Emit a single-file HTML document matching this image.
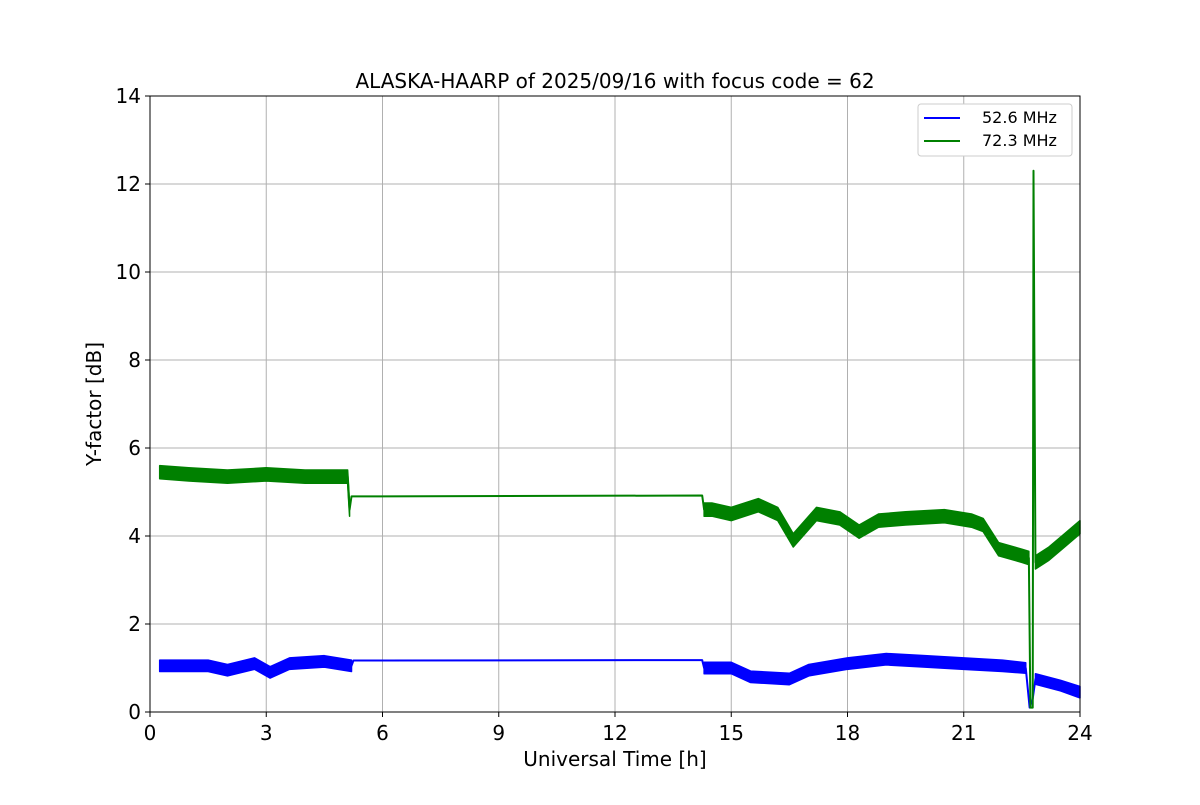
<!DOCTYPE html>
<html><head><meta charset="utf-8"><style>
body{margin:0;background:#fff}
svg text{font-family:"DejaVu Sans","Liberation Sans",sans-serif;fill:#000}
</style></head><body>
<svg id="chart" width="1200" height="800"></svg>
<script>
const xTicks=[0,3,6,9,12,15,18,21,24];
const yTicks=[0,2,4,6,8,10,12,14];
const greenT=[0.25,1,2,3,4,5,5.1,5.15,5.2,14.25,14.3,14.5,15,15.7,16.2,16.6,17.2,17.8,18.3,18.8,19.5,20.5,21.2,21.5,21.9,22.5,22.68,22.72,22.78,22.8,22.85,23.2,23.6,24];
const greenV=[5.45,5.4,5.35,5.4,5.35,5.35,5.35,4.6,4.9,4.92,4.6,4.6,4.5,4.7,4.5,3.9,4.5,4.4,4.1,4.35,4.4,4.45,4.35,4.25,3.7,3.55,3.5,0.1,0.1,12.3,3.4,3.6,3.9,4.2];
const greenN=[0.15,0.15,0.15,0.15,0.15,0.15,0.15,0.15,0,0,0.15,0.15,0.15,0.15,0.15,0.15,0.15,0.15,0.15,0.15,0.15,0.15,0.15,0.15,0.15,0.15,0.15,0,0,0,0.15,0.15,0.15,0.15];
const blueT=[0.25,1.5,2,2.7,3.1,3.6,4.5,5.2,5.25,14.25,14.3,15,15.5,16.5,17,18,19,20,21,22,22.6,22.7,22.78,22.85,23.5,24];
const blueV=[1.05,1.05,0.95,1.1,0.9,1.1,1.15,1.05,1.17,1.18,1.0,1.0,0.8,0.75,0.95,1.1,1.2,1.15,1.1,1.05,1.0,0.1,0.3,0.75,0.6,0.45];
const blueN=[0.13,0.13,0.13,0.13,0.13,0.13,0.13,0.13,0,0,0.13,0.13,0.13,0.13,0.13,0.13,0.13,0.13,0.13,0.13,0.12,0,0,0.12,0.12,0.13];
const L=150,R=1080,T=96,B=712;
const sx=v=>L+(v/24)*(R-L), sy=v=>B-(v/14)*(B-T);
const NS="http://www.w3.org/2000/svg", svg=document.getElementById('chart');
function mk(tag,attrs,parent,txt){const e=document.createElementNS(NS,tag);for(const k in attrs)e.setAttribute(k,attrs[k]);if(txt!==undefined)e.textContent=txt;(parent||svg).appendChild(e);return e;}
const grid=mk('g',{});

xTicks.forEach(t=>{mk('line',{x1:sx(t),x2:sx(t),y1:T,y2:B,stroke:'#b0b0b0','stroke-width':1},grid);
 mk('line',{x1:sx(t),x2:sx(t),y1:B,y2:B+5,stroke:'#000'});
 const l=mk('text',{x:sx(t),y:B+28,'text-anchor':'middle','font-size':20},svg,t);
 });
yTicks.forEach(t=>{mk('line',{x1:L,x2:R,y1:sy(t),y2:sy(t),stroke:'#b0b0b0','stroke-width':1},grid);
 mk('line',{x1:L-5,x2:L,y1:sy(t),y2:sy(t),stroke:'#000'});
 const l=mk('text',{x:L-9,y:sy(t)+7,'text-anchor':'end','font-size':20},svg,t);
 });
function series(Ts,Vs,Ns,color,name){
 const g=mk('g',{});
 mk('polyline',{points:Ts.map((t,i)=>sx(t)+','+sy(Vs[i])).join(' '),fill:'none',stroke:color,'stroke-width':2,'stroke-linejoin':'round'},g);
 let run=[];
 const flush=()=>{if(run.length>1){const up=run.map(i=>sx(Ts[i])+','+sy(Vs[i]+Ns[i]));const dn=run.slice().reverse().map(i=>sx(Ts[i])+','+sy(Vs[i]-Ns[i]));
  mk('polygon',{points:up.concat(dn).join(' '),fill:color,stroke:color,'stroke-width':1.5,'stroke-linejoin':'round'},g);}run=[];};
 for(let i=0;i<Ts.length;i++){if(Ns[i]>0)run.push(i);else flush();}
 flush();
}
series(blueT,blueV,blueN,'#0000ff','series-52-6-mhz');
series(greenT,greenV,greenN,'#008000','series-72-3-mhz');
const fr=mk('rect',{x:L,y:T,width:R-L,height:B-T,fill:'none',stroke:'#000','stroke-width':1});

let e=mk('text',{x:615,y:88,'text-anchor':'middle','font-size':20},svg,'ALASKA-HAARP of 2025/09/16 with focus code = 62');

e=mk('text',{x:615,y:766,'text-anchor':'middle','font-size':20},svg,'Universal Time [h]');

e=mk('text',{x:101,y:404,'text-anchor':'middle','font-size':20,transform:'rotate(-90 101 404)'},svg,'Y-factor [dB]');

const lg=mk('g',{});
mk('rect',{x:918,y:104,width:154,height:52,rx:3,fill:'#fff',stroke:'#ccc'},lg);
mk('line',{x1:924,x2:960,y1:118,y2:118,stroke:'#0000ff','stroke-width':2},lg);
mk('text',{x:982,y:123,'font-size':16},lg,'52.6 MHz');
mk('line',{x1:924,x2:960,y1:141,y2:141,stroke:'#008000','stroke-width':2},lg);
mk('text',{x:982,y:146,'font-size':16},lg,'72.3 MHz');
</script>
</body></html>
